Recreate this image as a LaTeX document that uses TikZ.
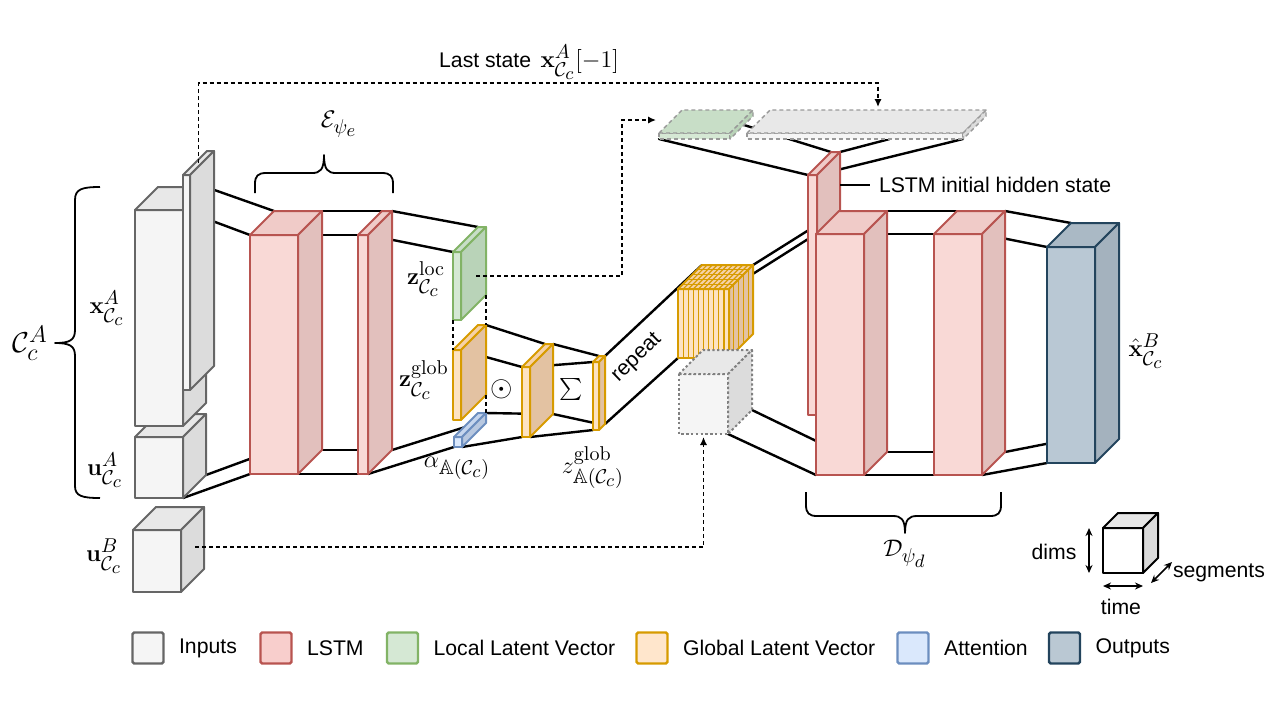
\documentclass[tikz,border=0pt]{standalone}
\usepackage[no-math]{fontspec}
\usepackage{amsmath,amssymb}
\usetikzlibrary{arrows.meta, positioning, calc, backgrounds}
\newfontfamily\arial{Liberation Sans}
\DeclareMathSizes{13}{13}{10.4}{8.6}
\DeclareMathSizes{15}{15}{11.5}{9.5}
% face colours: F front, T top, S side, D border
\definecolor{inF}{HTML}{F5F5F5}\definecolor{inT}{HTML}{E8E8E8}\definecolor{inS}{HTML}{DCDCDC}\definecolor{inD}{HTML}{666666}
\definecolor{lsF}{HTML}{F9D9D6}\definecolor{lsT}{HTML}{F0CBC8}\definecolor{lsS}{HTML}{E2C0BD}\definecolor{lsD}{HTML}{B85450}
\definecolor{gnF}{HTML}{D5E8D4}\definecolor{gnT}{HTML}{C8DEC7}\definecolor{gnS}{HTML}{B9D3B8}\definecolor{gnD}{HTML}{82B366}
\definecolor{orF}{HTML}{FDE3C2}\definecolor{orT}{HTML}{F6D2A8}\definecolor{orS}{HTML}{E3C2A2}\definecolor{orD}{HTML}{D79B00}
\definecolor{atF}{HTML}{DAE8FC}\definecolor{atT}{HTML}{C6D6EE}\definecolor{atS}{HTML}{B8C8E0}\definecolor{atD}{HTML}{6C8EBF}
\definecolor{ouF}{HTML}{B9C8D4}\definecolor{ouT}{HTML}{AAB9C5}\definecolor{ouS}{HTML}{A4B2BE}\definecolor{ouD}{HTML}{23445D}
\definecolor{keF}{HTML}{FFFFFF}\definecolor{keT}{HTML}{E6E6E6}\definecolor{keS}{HTML}{DADADA}\definecolor{keD}{HTML}{000000}
\definecolor{lgin}{HTML}{F5F5F5}\definecolor{lgls}{HTML}{F8CECC}\definecolor{lggn}{HTML}{D5E8D4}
\definecolor{lgor}{HTML}{FFE6CC}\definecolor{lgat}{HTML}{DAE8FC}\definecolor{lgou}{HTML}{BAC8D3}

% [style]{colour prefix}{name}{x}{y}{width}{height}{depth}
\newcommand{\drawcube}[8][]{%
  \coordinate (#3-ftl) at (#4,#5);
  \coordinate (#3-ftr) at ({#4+#6},#5);
  \coordinate (#3-fbl) at (#4,{#5+#7});
  \coordinate (#3-fbr) at ({#4+#6},{#5+#7});
  \coordinate (#3-btl) at ({#4+#8},{#5-#8});
  \coordinate (#3-btr) at ({#4+#6+#8},{#5-#8});
  \coordinate (#3-bbl) at ({#4+#8},{#5+#7-#8});
  \coordinate (#3-bbr) at ({#4+#6+#8},{#5+#7-#8});
  \filldraw[cubeline, draw=#2D, fill=#2F, #1] (#3-ftl) rectangle (#3-fbr);
  \filldraw[cubeline, draw=#2D, fill=#2T, #1] (#3-ftl) -- (#3-btl) -- (#3-btr) -- (#3-ftr) -- cycle;
  \filldraw[cubeline, draw=#2D, fill=#2S, #1] (#3-ftr) -- (#3-btr) -- (#3-bbr) -- (#3-fbr) -- cycle;
}

\begin{document}
\begin{tikzpicture}[x=0.5pt, y=-0.5pt,
  cubeline/.style={line width=1pt, line join=round},
  conn/.style={line width=1.2pt, line cap=round},
  guide/.style={line width=0.7pt, dash pattern=on 2pt off 1.5pt},
  dotarr/.style={guide, -{Latex[length=4pt, width=3.6pt]}},
  lbl/.style={inner sep=0pt, font=\fontsize{13}{15}\selectfont},
  sans/.style={inner sep=0pt, font=\arial\fontsize{10.6}{12}\selectfont},
  legbox/.style={draw, line width=1.2pt, minimum size=15.5pt, inner sep=0pt, rounded corners=0.8pt},
  brc/.style={line width=0.9pt, line join=round},
  keyarr/.style={line width=0.8pt, {Stealth[length=4pt, width=3.5pt]}-{Stealth[length=4pt, width=3.5pt]}}
]
\useasboundingbox (0,0) rectangle (1280,720);

% inputs
\drawcube{in}{ua}{135}{437}{48}{61}{23}
\drawcube{in}{xa}{135}{210}{48}{216}{23}
\drawcube{in}{last}{183}{175}{7}{215}{24}
\drawcube{in}{ub}{133}{530}{48}{62}{23}

% encoder
\drawcube{ls}{ls1}{250}{235}{48}{239}{24}
\drawcube{ls}{ls2}{358}{235}{10}{239}{24}

% latent vectors
\drawcube{gn}{zloc}{453}{252}{8}{68}{25}
\drawcube{or}{zglob}{453}{350}{8}{70}{25}
\drawcube{at}{att}{454}{437}{8}{10}{24}
\drawcube{or}{prod}{522}{367}{8}{70}{23}
\drawcube{or}{sum}{593}{362}{6}{68}{6}

% repeated vector
\drawcube{or}{rep}{678}{289}{51}{69}{24}
\foreach \k in {1,...,9} {
  \draw[orD, line width=0.6pt] ($(rep-ftl)!\k/10!(rep-ftr)$) -- ($(rep-fbl)!\k/10!(rep-fbr)$);
  \draw[orD, line width=0.6pt] ($(rep-ftl)!\k/10!(rep-ftr)$) -- ($(rep-btl)!\k/10!(rep-btr)$);
}
\foreach \k in {1,...,4} {
  \draw[orD, line width=0.6pt] ($(rep-ftl)!\k/5!(rep-btl)$) -- ($(rep-ftr)!\k/5!(rep-btr)$);
  \draw[orD, line width=0.6pt] ($(rep-ftr)!\k/5!(rep-btr)$) -- ($(rep-fbr)!\k/5!(rep-bbr)$);
}
\drawcube[draw=gray, dash pattern=on 1.2pt off 1.2pt]{in}{dc}{679}{374}{49}{60}{24}

% initial hidden state
\drawcube[draw=gray!80, line width=0.7pt, dash pattern=on 2pt off 1.5pt]{gn}{gnflat}{659}{133}{71}{6}{23}
\drawcube[draw=gray!80, line width=0.7pt, dash pattern=on 2pt off 1.5pt]{in}{grflat}{747}{133}{216}{6}{23}
\drawcube{ls}{init}{808}{175}{9}{240}{23}

% decoder and outputs
\drawcube{ls}{dA}{816}{234}{48}{241}{23}
\drawcube{ls}{dB}{934}{234}{48}{241}{23}
\drawcube{ou}{out}{1047}{247}{48}{216}{24}

\coordinate (hidA) at (744,125);
\coordinate (hidB) at ($(grflat-fbl)!0.66!(grflat-fbr)$);

\begin{scope}[on background layer]
  \draw[conn] (xa-btr) -- (ls1-btl);  \draw[conn] (xa-ftr) -- (ls1-ftl);
  \draw[conn] (ua-bbr) -- (ls1-bbl);  \draw[conn] (ua-fbr) -- (ls1-fbl);
  \draw[conn] (ls1-btr) -- (ls2-btl); \draw[conn] (ls1-ftr) -- (ls2-ftl);
  \draw[conn] (ls1-bbr) -- (ls2-bbl); \draw[conn] (ls1-fbr) -- (ls2-fbl);
  \draw[conn] (ls2-btr) -- (zloc-btl); \draw[conn] (ls2-ftr) -- (zloc-ftl);
  \draw[conn] (ls2-bbr) -- (att-bbl);  \draw[conn] (ls2-fbr) -- (att-fbl);
  \draw[conn] (zglob-btr) -- (prod-btl); \draw[conn] (zglob-ftr) -- (prod-ftl);
  \draw[conn] (att-btr) -- (prod-bbl);   \draw[conn] (att-fbr) -- (prod-fbl);
  \draw[conn] (prod-btr) -- (sum-btl); \draw[conn] (prod-ftr) -- (sum-ftl);
  \draw[conn] (prod-bbr) -- (sum-bbl); \draw[conn] (prod-fbr) -- (sum-fbl);
  \draw[conn] (sum-btr) -- (rep-btl);  \draw[conn] (sum-bbr) -- (rep-fbl);
  \draw[conn] (rep-btr) -- (dA-btl);   \draw[conn] (rep-ftr) -- (dA-ftl);
  \draw[conn] (dc-bbr) -- (dA-bbl);    \draw[conn] (dc-fbr) -- (dA-fbl);
  \draw[conn] (dA-btr) -- (dB-btl);    \draw[conn] (dA-ftr) -- (dB-ftl);
  \draw[conn] (dA-bbr) -- (dB-bbl);    \draw[conn] (dA-fbr) -- (dB-fbl);
  \draw[conn] (dB-btr) -- (out-btl);   \draw[conn] (dB-ftr) -- (out-ftl);
  \draw[conn] (dB-bbr) -- (out-bbl);   \draw[conn] (dB-fbr) -- (out-fbl);
  \draw[conn] (gnflat-fbl) -- (init-ftl); \draw[conn] (grflat-fbr) -- (init-ftr);
  \draw[conn] (init-btl) -- (hidA);       \draw[conn] (init-btr) -- (hidB);
\end{scope}

% dashed guides and feedback arrows
\draw[guide] (zloc-fbl) -- (zglob-ftl);
\draw[guide] (zloc-bbr) -- (zglob-btr);
\draw[guide] (zglob-bbr) -- (att-btr);
\coordinate (lastout) at ($(last-ftl)!0.5!(last-btr)$);
\coordinate (lastin) at (878,107);
\draw[dotarr] (lastout) -- ++(0,-80) -| (lastin);
\coordinate (locout) at (476,276);
\coordinate (locin) at (656,120);
\draw[dotarr] (locout) -- ++(146,0) |- (locin);
\coordinate (ubout) at (195,547);
\coordinate (dcin) at ($(dc-fbl)!0.5!(dc-fbr)+(0,3)$);
\draw[dotarr] (ubout) -| (dcin);

% braces
\draw[brc] (100,187) .. controls (82,187) and (75,189) .. (75,200) -- (75,330)
  .. controls (75,340) and (70,343) .. (55,343) .. controls (70,343) and (75,346) .. (75,356)
  -- (75,486) .. controls (75,496) and (82,498) .. (100,498);
\draw[brc] (255,193) -- (255,184) .. controls (255,176) and (258,173) .. (266,173) -- (312,173)
  .. controls (320,173) and (324,170) .. (324,155) .. controls (324,170) and (328,173) .. (336,173)
  -- (382,173) .. controls (390,173) and (393,176) .. (393,184) -- (393,193);
\draw[brc] (806,492) -- (806,505) .. controls (806,513) and (809,516) .. (817,516) -- (893,516)
  .. controls (901,516) and (905,519) .. (905,533) .. controls (905,519) and (909,516) .. (917,516)
  -- (990,516) .. controls (998,516) and (1001,513) .. (1001,505) -- (1001,492);

% labels
\node[lbl, font=\fontsize{15}{17}\selectfont] (lbca) at (30,343) {$\mathcal{C}^{A}_{c}$};
\node[lbl] (lbxa) at (107,308) {$\mathbf{x}^{A}_{\mathcal{C}_c}$};
\node[lbl] (lbua) at (105,470) {$\mathbf{u}^{A}_{\mathcal{C}_c}$};
\node[lbl] (lbub) at (104,556) {$\mathbf{u}^{B}_{\mathcal{C}_c}$};
\node[lbl] (lbenc) at (339,124) {$\mathcal{E}_{\psi_e}$};
\node[lbl] (lbloc) at (426,279) {$\mathbf{z}^{\mathrm{loc}}_{\mathcal{C}_c}$};
\node[lbl] (lbglob) at (424,380) {$\mathbf{z}^{\mathrm{glob}}_{\mathcal{C}_c}$};
\node[lbl] (lbatt) at (457,468) {$\alpha_{\mathbb{A}(\mathcal{C}_c)}$};
\node[lbl] (lbsum) at (593,468) {$z^{\mathrm{glob}}_{\mathbb{A}(\mathcal{C}_c)}$};
\node[lbl, font=\fontsize{15}{17}\selectfont] (lbodot) at (502,389) {$\odot$};
\node[lbl, font=\fontsize{11}{13}\selectfont] (lbsigma) at (571,389) {$\sum$};
\node[lbl] (lbout) at (1146,351) {$\hat{\mathbf{x}}^{B}_{\mathcal{C}_c}$};
\node[lbl] (lbdec) at (905,554) {$\mathcal{D}_{\psi_d}$};
\node[sans, rotate=44] (lbrep) at (637,358) {repeat};
\node[sans] (laststate) at (529,62) {Last state\, {\fontsize{13}{15}\selectfont$\mathbf{x}^{A}_{\mathcal{C}_c}[-1]$}};
\coordinate (hidlbl) at ($(init-btr)+(0,33)$);
\draw[line width=1pt] (hidlbl) -- ++(30,0) node[sans, right=4pt] (lbhid) {LSTM initial hidden state};

% axis key
\drawcube{ke}{key}{1103}{528}{40}{45}{15}
\draw[keyarr] ($(key-ftl)+(-14,0)$) -- ($(key-fbl)+(-14,0)$);
\draw[keyarr] ($(key-fbl)+(0,13)$) -- ($(key-fbr)+(0,13)$);
\draw[keyarr] ($(key-fbr)+(8,10)$) -- ++(21,-21);
\node[sans] (lbdims) at (1054,552) {dims};
\node[sans] (lbtime) at (1121,607) {time};
\node[sans] (lbseg) at (1219,573) {segments};

% legend
\node[legbox, fill=lgin, draw=inD] (lgbin) at (148,648) {};
\node[sans, right=7pt of lgbin] (lgtin) {Inputs};
\node[legbox, fill=lgls, draw=lsD] (lgbls) at (276,648) {};
\node[sans, right=7pt of lgbls] (lgtls) {LSTM};
\node[legbox, fill=lggn, draw=gnD] (lgbgn) at (402.5,648) {};
\node[sans, right=7pt of lgbgn] (lgtgn) {Local Latent Vector};
\node[legbox, fill=lgor, draw=orD] (lgbor) at (652,648) {};
\node[sans, right=7pt of lgbor] (lgtor) {Global Latent Vector};
\node[legbox, fill=lgat, draw=atD] (lgbat) at (913,648) {};
\node[sans, right=7pt of lgbat] (lgtat) {Attention};
\node[legbox, fill=lgou, draw=ouD] (lgbou) at (1064.5,648) {};
\node[sans, right=7pt of lgbou] (lgtou) {Outputs};
\end{tikzpicture}
\end{document}
